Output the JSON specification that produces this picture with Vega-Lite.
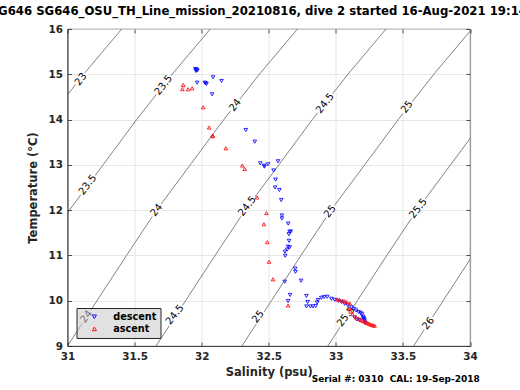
{
  "$schema": "https://vega.github.io/schema/vega-lite/v6.json",
  "width": 402.5,
  "height": 317,
  "autosize": {"type": "none"},
  "padding": {"left": 67.5, "top": 29, "right": 50, "bottom": 44},
  "background": "white",
  "title": {
    "text": "SG646 SG646_OSU_TH_Line_mission_20210816, dive 2 started 16-Aug-2021 19:14:37",
    "font": "DejaVu Sans", "fontSize": 11.7, "fontWeight": "bold", "color": "#000000",
    "anchor": "middle", "offset": 6
  },
  "datasets": {
    "iso": [
      {"sigma": "23", "S": 29.69, "T": 9}, {"sigma": "23", "S": 29.91, "T": 10}, {"sigma": "23", "S": 30.13, "T": 11}, {"sigma": "23", "S": 30.354, "T": 12}, {"sigma": "23", "S": 30.605, "T": 13}, {"sigma": "23", "S": 30.855, "T": 14}, {"sigma": "23", "S": 31.12, "T": 15}, {"sigma": "23", "S": 31.404, "T": 16},
      {"sigma": "23.5", "S": 30.35, "T": 9}, {"sigma": "23.5", "S": 30.57, "T": 10}, {"sigma": "23.5", "S": 30.79, "T": 11}, {"sigma": "23.5", "S": 31.014, "T": 12}, {"sigma": "23.5", "S": 31.265, "T": 13}, {"sigma": "23.5", "S": 31.515, "T": 14}, {"sigma": "23.5", "S": 31.78, "T": 15}, {"sigma": "23.5", "S": 32.064, "T": 16},
      {"sigma": "24", "S": 31.0, "T": 9}, {"sigma": "24", "S": 31.22, "T": 10}, {"sigma": "24", "S": 31.44, "T": 11}, {"sigma": "24", "S": 31.664, "T": 12}, {"sigma": "24", "S": 31.915, "T": 13}, {"sigma": "24", "S": 32.165, "T": 14}, {"sigma": "24", "S": 32.43, "T": 15}, {"sigma": "24", "S": 32.714, "T": 16},
      {"sigma": "24.5", "S": 31.66, "T": 9}, {"sigma": "24.5", "S": 31.88, "T": 10}, {"sigma": "24.5", "S": 32.1, "T": 11}, {"sigma": "24.5", "S": 32.324, "T": 12}, {"sigma": "24.5", "S": 32.575, "T": 13}, {"sigma": "24.5", "S": 32.825, "T": 14}, {"sigma": "24.5", "S": 33.09, "T": 15}, {"sigma": "24.5", "S": 33.374, "T": 16},
      {"sigma": "25", "S": 32.3, "T": 9}, {"sigma": "25", "S": 32.52, "T": 10}, {"sigma": "25", "S": 32.74, "T": 11}, {"sigma": "25", "S": 32.964, "T": 12}, {"sigma": "25", "S": 33.215, "T": 13}, {"sigma": "25", "S": 33.465, "T": 14}, {"sigma": "25", "S": 33.73, "T": 15}, {"sigma": "25", "S": 34.014, "T": 16},
      {"sigma": "25.5", "S": 32.94, "T": 9}, {"sigma": "25.5", "S": 33.16, "T": 10}, {"sigma": "25.5", "S": 33.38, "T": 11}, {"sigma": "25.5", "S": 33.604, "T": 12}, {"sigma": "25.5", "S": 33.855, "T": 13}, {"sigma": "25.5", "S": 34.105, "T": 14},
      {"sigma": "26", "S": 33.58, "T": 9}, {"sigma": "26", "S": 33.8, "T": 10}, {"sigma": "26", "S": 34.02, "T": 11}, {"sigma": "26", "S": 34.244, "T": 12}
    ],
    "labels": [
      {"label": "23", "S": 31.1, "T": 14.89},
      {"label": "23.5", "S": 31.716, "T": 14.76},
      {"label": "23.5", "S": 31.15, "T": 12.56},
      {"label": "24", "S": 32.25, "T": 14.32},
      {"label": "24", "S": 31.664, "T": 12.0},
      {"label": "24", "S": 31.14, "T": 9.65},
      {"label": "24.5", "S": 32.92, "T": 14.36},
      {"label": "24.5", "S": 32.34, "T": 12.09},
      {"label": "24.5", "S": 31.8, "T": 9.69},
      {"label": "25", "S": 33.53, "T": 14.28},
      {"label": "25", "S": 32.957, "T": 11.97},
      {"label": "25", "S": 32.42, "T": 9.65},
      {"label": "25.5", "S": 33.614, "T": 12.04},
      {"label": "25.5", "S": 33.075, "T": 9.65},
      {"label": "26", "S": 33.69, "T": 9.5}
    ],
    "dive": [
      {"cast": "descent", "S": 31.953, "T": 15.117}, {"cast": "descent", "S": 31.96, "T": 15.095}, {"cast": "descent", "S": 31.968, "T": 15.084}, {"cast": "descent", "S": 31.957, "T": 15.073}, {"cast": "descent", "S": 31.962, "T": 15.105},
      {"cast": "descent", "S": 31.966, "T": 14.814}, {"cast": "descent", "S": 32.024, "T": 14.814}, {"cast": "descent", "S": 32.036, "T": 14.786}, {"cast": "descent", "S": 32.029, "T": 14.801}, {"cast": "descent", "S": 32.085, "T": 14.934}, {"cast": "descent", "S": 32.148, "T": 14.852}, {"cast": "descent", "S": 32.078, "T": 14.558},
      {"cast": "descent", "S": 32.329, "T": 13.77}, {"cast": "descent", "S": 32.396, "T": 13.512},
      {"cast": "descent", "S": 32.437, "T": 13.035}, {"cast": "descent", "S": 32.465, "T": 12.982}, {"cast": "descent", "S": 32.468, "T": 12.96}, {"cast": "descent", "S": 32.495, "T": 13.013}, {"cast": "descent", "S": 32.569, "T": 13.079}, {"cast": "descent", "S": 32.536, "T": 12.876}, {"cast": "descent", "S": 32.551, "T": 12.675}, {"cast": "descent", "S": 32.547, "T": 12.5}, {"cast": "descent", "S": 32.579, "T": 12.445}, {"cast": "descent", "S": 32.593, "T": 12.224},
      {"cast": "descent", "S": 32.598, "T": 11.882}, {"cast": "descent", "S": 32.598, "T": 11.816}, {"cast": "descent", "S": 32.645, "T": 11.703}, {"cast": "descent", "S": 32.656, "T": 11.524}, {"cast": "descent", "S": 32.664, "T": 11.529}, {"cast": "descent", "S": 32.65, "T": 11.469}, {"cast": "descent", "S": 32.651, "T": 11.323}, {"cast": "descent", "S": 32.644, "T": 11.193}, {"cast": "descent", "S": 32.656, "T": 11.18}, {"cast": "descent", "S": 32.638, "T": 11.129}, {"cast": "descent", "S": 32.621, "T": 11.083}, {"cast": "descent", "S": 32.623, "T": 10.992},
      {"cast": "descent", "S": 32.697, "T": 10.71}, {"cast": "descent", "S": 32.699, "T": 10.639}, {"cast": "descent", "S": 32.619, "T": 10.42}, {"cast": "descent", "S": 32.741, "T": 10.442}, {"cast": "descent", "S": 32.659, "T": 10.127}, {"cast": "descent", "S": 32.644, "T": 9.994},
      {"cast": "descent", "S": 32.781, "T": 10.105}, {"cast": "descent", "S": 32.79, "T": 9.972}, {"cast": "descent", "S": 32.781, "T": 9.873}, {"cast": "descent", "S": 32.81, "T": 9.873}, {"cast": "descent", "S": 32.83, "T": 9.873}, {"cast": "descent", "S": 32.85, "T": 9.884}, {"cast": "descent", "S": 32.861, "T": 9.961}, {"cast": "descent", "S": 32.867, "T": 10.016}, {"cast": "descent", "S": 32.892, "T": 10.065}, {"cast": "descent", "S": 32.913, "T": 10.083}, {"cast": "descent", "S": 32.936, "T": 10.087},
      {"cast": "descent", "S": 32.967, "T": 10.043}, {"cast": "descent", "S": 32.991, "T": 10.021}, {"cast": "descent", "S": 33.016, "T": 9.999}, {"cast": "descent", "S": 33.041, "T": 9.972}, {"cast": "descent", "S": 33.066, "T": 9.932}, {"cast": "descent", "S": 33.09, "T": 9.899}, {"cast": "descent", "S": 33.116, "T": 9.855}, {"cast": "descent", "S": 33.135, "T": 9.818}, {"cast": "descent", "S": 33.151, "T": 9.784}, {"cast": "descent", "S": 33.17, "T": 9.751}, {"cast": "descent", "S": 33.185, "T": 9.725}, {"cast": "descent", "S": 33.195, "T": 9.7}, {"cast": "descent", "S": 33.202, "T": 9.648}, {"cast": "descent", "S": 33.206, "T": 9.62}, {"cast": "descent", "S": 33.209, "T": 9.597}, {"cast": "descent", "S": 33.212, "T": 9.57}, {"cast": "descent", "S": 33.215, "T": 9.542}, {"cast": "descent", "S": 33.22, "T": 9.502}, {"cast": "descent", "S": 33.14, "T": 9.63}, {"cast": "descent", "S": 33.155, "T": 9.586}, {"cast": "descent", "S": 33.177, "T": 9.575},
      {"cast": "ascent", "S": 33.289, "T": 9.449}, {"cast": "ascent", "S": 33.28, "T": 9.455}, {"cast": "ascent", "S": 33.27, "T": 9.462}, {"cast": "ascent", "S": 33.259, "T": 9.475}, {"cast": "ascent", "S": 33.248, "T": 9.49}, {"cast": "ascent", "S": 33.238, "T": 9.505}, {"cast": "ascent", "S": 33.227, "T": 9.52}, {"cast": "ascent", "S": 33.215, "T": 9.535}, {"cast": "ascent", "S": 33.2, "T": 9.555}, {"cast": "ascent", "S": 33.185, "T": 9.575}, {"cast": "ascent", "S": 33.17, "T": 9.6}, {"cast": "ascent", "S": 33.15, "T": 9.635}, {"cast": "ascent", "S": 33.125, "T": 9.7}, {"cast": "ascent", "S": 33.11, "T": 9.76}, {"cast": "ascent", "S": 33.1, "T": 9.82},
      {"cast": "ascent", "S": 33.103, "T": 9.943}, {"cast": "ascent", "S": 33.08, "T": 9.97}, {"cast": "ascent", "S": 33.066, "T": 9.988}, {"cast": "ascent", "S": 33.05, "T": 10.0}, {"cast": "ascent", "S": 33.029, "T": 10.016}, {"cast": "ascent", "S": 33.01, "T": 10.03},
      {"cast": "ascent", "S": 32.644, "T": 9.895}, {"cast": "ascent", "S": 32.532, "T": 10.473}, {"cast": "ascent", "S": 32.502, "T": 10.86}, {"cast": "ascent", "S": 32.489, "T": 11.293}, {"cast": "ascent", "S": 32.464, "T": 11.688}, {"cast": "ascent", "S": 32.483, "T": 11.937}, {"cast": "ascent", "S": 32.413, "T": 12.28}, {"cast": "ascent", "S": 32.321, "T": 12.909}, {"cast": "ascent", "S": 32.303, "T": 12.986}, {"cast": "ascent", "S": 32.18, "T": 13.366}, {"cast": "ascent", "S": 32.083, "T": 13.631}, {"cast": "ascent", "S": 32.081, "T": 13.648}, {"cast": "ascent", "S": 32.056, "T": 13.825}, {"cast": "ascent", "S": 32.011, "T": 14.271}, {"cast": "ascent", "S": 31.929, "T": 14.691}, {"cast": "ascent", "S": 31.899, "T": 14.669}, {"cast": "ascent", "S": 31.856, "T": 14.671}, {"cast": "ascent", "S": 31.862, "T": 14.764}
    ],
    "note": [{"text": "Serial #: 0310\u00a0 CAL: 19-Sep-2018", "S": 32.82, "T": 8.2}]
  },
  "layer": [
    {
      "data": {"name": "iso"},
      "mark": {"type": "line", "clip": true, "stroke": "#4d4d4d", "strokeWidth": 0.7},
      "encoding": {
        "x": {"field": "S", "type": "quantitative", "scale": {"domain": [31, 34], "nice": false, "zero": false},
          "axis": {"orient": "bottom", "values": [31, 31.5, 32, 32.5, 33, 33.5, 34], "format": "~g", "title": "Salinity (psu)", "grid": true, "tickSize": -4, "labelPadding": 9, "titlePadding": 5}},
        "y": {"field": "T", "type": "quantitative", "scale": {"domain": [9, 16], "nice": false, "zero": false},
          "axis": {"orient": "left", "values": [9, 10, 11, 12, 13, 14, 15, 16], "format": "~g", "title": "Temperature (°C)", "grid": true, "tickSize": -4, "labelPadding": 9, "titlePadding": 10}},
        "detail": {"field": "sigma"},
        "order": {"field": "T", "type": "quantitative"}
      }
    },
    {
      "data": {"name": "labels"},
      "transform": [{"filter": "length(datum.label) > 2"}],
      "mark": {"type": "point", "shape": "M-1,-0.3L1,-0.3L1,0.3L-1,0.3Z", "filled": true, "fill": "white", "strokeWidth": 0, "opacity": 1, "angle": -52, "size": 576},
      "encoding": {
        "x": {"field": "S", "type": "quantitative", "axis": {"orient": "top", "values": [31, 31.5, 32, 32.5, 33, 33.5, 34], "labels": false, "title": null, "grid": false, "tickSize": -4, "domain": false}},
        "y": {"field": "T", "type": "quantitative", "axis": {"orient": "right", "values": [9, 10, 11, 12, 13, 14, 15, 16], "labels": false, "title": null, "grid": false, "tickSize": -4, "domain": false}}
      }
    },
    {
      "data": {"name": "labels"},
      "transform": [{"filter": "length(datum.label) <= 2"}],
      "mark": {"type": "point", "shape": "M-1,-0.45L1,-0.45L1,0.45L-1,0.45Z", "filled": true, "fill": "white", "strokeWidth": 0, "opacity": 1, "angle": -52, "size": 225},
      "encoding": {
        "x": {"field": "S", "type": "quantitative", "axis": null},
        "y": {"field": "T", "type": "quantitative", "axis": null}
      }
    },
    {
      "data": {"name": "labels"},
      "mark": {"type": "text", "angle": -52, "font": "DejaVu Sans", "fontSize": 10, "color": "#000000", "align": "center", "baseline": "middle"},
      "encoding": {
        "x": {"field": "S", "type": "quantitative", "axis": null},
        "y": {"field": "T", "type": "quantitative", "axis": null},
        "text": {"field": "label"}
      }
    },
    {
      "data": {"name": "dive"},
      "mark": {"type": "point", "filled": false, "size": 13, "strokeWidth": 0.9, "opacity": 1},
      "encoding": {
        "x": {"field": "S", "type": "quantitative", "axis": null},
        "y": {"field": "T", "type": "quantitative", "axis": null},
        "color": {"field": "cast", "type": "nominal", "scale": {"domain": ["descent", "ascent"], "range": ["#1010ff", "#ff1010"]},
          "legend": {"orient": "none", "legendX": 9, "legendY": 279, "title": null, "fillColor": "rgba(200,200,200,0.55)", "strokeColor": "#262626", "padding": 4, "labelFont": "DejaVu Sans", "labelFontWeight": "bold", "labelFontSize": 9.7, "labelColor": "#000000", "symbolSize": 18, "symbolStrokeWidth": 1, "rowPadding": 1, "symbolOffset": 9, "labelOffset": 14}},
        "shape": {"field": "cast", "type": "nominal", "scale": {"domain": ["descent", "ascent"], "range": ["triangle-down", "triangle-up"]},
          "legend": {"orient": "none", "legendX": 9, "legendY": 279, "title": null, "fillColor": "rgba(200,200,200,0.55)", "strokeColor": "#262626", "padding": 4, "labelFont": "DejaVu Sans", "labelFontWeight": "bold", "labelFontSize": 9.7, "labelColor": "#000000", "symbolSize": 18, "symbolStrokeWidth": 1, "rowPadding": 1, "symbolOffset": 9, "labelOffset": 14}}
      }
    },
    {
      "data": {"name": "note"},
      "mark": {"type": "text", "font": "DejaVu Sans", "fontWeight": "bold", "fontSize": 9, "color": "#000000", "align": "left", "baseline": "alphabetic"},
      "encoding": {
        "x": {"field": "S", "type": "quantitative", "axis": null},
        "y": {"field": "T", "type": "quantitative", "axis": null},
        "text": {"field": "text"}
      }
    }
  ],
  "resolve": {"axis": {"x": "independent", "y": "independent"}},
  "config": {
    "view": {"stroke": "#262626", "strokeWidth": 0.8},
    "axis": {
      "labelFont": "DejaVu Sans", "labelFontWeight": "bold", "labelFontSize": 10.4, "labelColor": "#262626",
      "titleFont": "DejaVu Sans", "titleFontWeight": "bold", "titleFontSize": 11.5, "titleColor": "#262626",
      "domainColor": "#262626", "domainWidth": 0.8, "tickColor": "#262626", "tickWidth": 0.8,
      "gridColor": "#dfdfdf", "gridWidth": 0.8, "labelFlush": false, "labelOverlap": false, "labelBound": false
    }
  }
}
